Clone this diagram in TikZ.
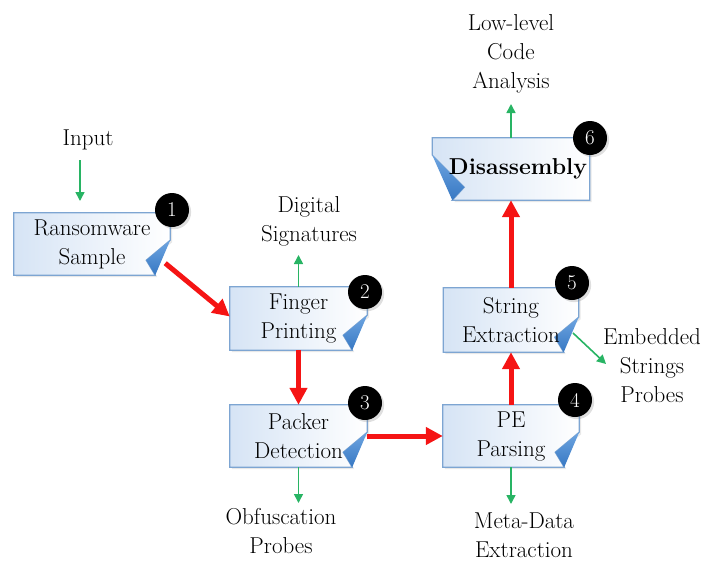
\documentclass[tikz,border=0pt]{standalone}
\usetikzlibrary{arrows.meta,shadows,backgrounds}

\definecolor{boxborder}{RGB}{125,165,210}
\definecolor{boxfillA}{RGB}{214,228,245}
\definecolor{foldblue}{RGB}{55,120,195}
\definecolor{foldlight}{RGB}{110,165,225}
\definecolor{flowred}{RGB}{245,20,20}
\definecolor{probegreen}{RGB}{40,180,100}

\tikzset{
  txt/.style={font=\rmfamily\fontsize{23}{29}\selectfont, align=center, inner sep=0pt},
  boxnode/.style={txt, rectangle},
  badge/.style={circle, fill=black, text=white, minimum size=34pt, inner sep=0pt,
    font=\rmfamily\fontsize{21}{21}\selectfont},
  flow/.style={draw=flowred, line width=5pt, -{Triangle[length=17pt,width=17pt]}},
  probe/.style={draw=probegreen, line width=1.6pt, -{Triangle[length=9pt,width=9pt]}},
  boxpaint/.style={left color=boxfillA, right color=white, draw=boxborder, line width=1.2pt,
    drop shadow={opacity=0.18, shadow xshift=2pt, shadow yshift=-2pt}},
  foldpaint/.style={top color=foldlight, bottom color=foldblue, draw=none}
}

% box with folded corner at bottom right
\newcommand\foldboxR[1]{%
  \path[boxpaint] (#1.north west) -- (#1.north east) -- ([yshift=35pt]#1.south east)
    -- ([xshift=-24pt,yshift=15pt]#1.south east) -- ([xshift=-15pt]#1.south east)
    -- (#1.south west) -- cycle;
  \path[foldpaint] ([yshift=35pt]#1.south east) -- ([xshift=-24pt,yshift=15pt]#1.south east)
    -- ([xshift=-15pt]#1.south east) -- cycle;}
% box with folded corner at bottom left
\newcommand\foldboxL[1]{%
  \path[boxpaint] (#1.north west) -- (#1.north east) -- (#1.south east)
    -- ([xshift=20pt]#1.south west) -- ([xshift=32pt,yshift=13pt]#1.south west)
    -- ([yshift=45pt]#1.south west) -- cycle;
  \path[foldpaint] ([yshift=45pt]#1.south west) -- ([xshift=32pt,yshift=13pt]#1.south west)
    -- ([xshift=20pt]#1.south west) -- cycle;}

\begin{document}
\begin{tikzpicture}[x=1pt, y=-1pt]
\useasboundingbox (0,0) rectangle (726,563);

% process boxes
\node[boxnode, minimum width=156pt, minimum height=62pt] (b1) at (92,244) {Ransomware\\Sample};
\node[boxnode, minimum width=137pt, minimum height=63pt] (b2) at (298.5,318.5) {Finger\\Printing};
\node[boxnode, minimum width=137pt, minimum height=62pt] (b3) at (298.5,436) {Packer\\Detection};
\node[boxnode, minimum width=136pt, minimum height=62pt] (b4) at (511,436) {PE\\Parsing};
\node[boxnode, minimum width=135pt, minimum height=64pt] (b5) at (511,320) {String\\Extraction};
\node[boxnode, minimum width=157pt, minimum height=62pt] (b6) at (511,169) {\hspace*{14pt}\textbf{Disassembly}};

\begin{scope}[on background layer]
  \foldboxR{b1}
  \foldboxR{b2}
  \foldboxR{b3}
  \foldboxR{b4}
  \foldboxR{b5}
  \foldboxL{b6}
\end{scope}

% outside labels
\node[txt] (in) at (88,140) {Input};
\node[txt] (sig) at (309,221) {Digital\\Signatures};
\node[txt] (obf) at (281,531) {Obfuscation\\Probes};
\node[txt] (meta) at (524,535) {Meta-Data\\Extraction};
\node[txt] (emb) at (652,366) {Embedded\\Strings\\Probes};
\node[txt] (low) at (511,54) {Low-level\\Code\\Analysis};

% free ends of the green arrows
\coordinate (inA) at (80,160);
\coordinate (inB) at (80,201);
\coordinate (sigtip) at (298.5,255);
\coordinate (obftip) at (298.5,503);
\coordinate (metatip) at (511,504);
\coordinate (embA) at (573,333);
\coordinate (embtip) at (606,364);
\coordinate (lowtip) at (511,104);

% green probe arrows
\draw[probe] (inA) -- (inB);
\draw[probe] (b2.north) -- (sigtip);
\draw[probe] (b3.south) -- (obftip);
\draw[probe] (b4.south) -- (metatip);
\draw[probe] (embA) -- (embtip);
\draw[probe] (b6.north) -- (lowtip);

% red flow arrows
\draw[flow] ([xshift=-5pt,yshift=12pt]b1.south east) -- ([yshift=2pt]b2.west);
\draw[flow] (b2.south) -- (b3.north);
\draw[flow] (b3.east) -- (b4.west);
\draw[flow] (b4.north) -- (b5.south);
\draw[flow] (b5.north) -- (b6.south);

% numbered badges
\node[badge, drop shadow={opacity=0.25}] (n1) at (172,210) {1};
\node[badge, drop shadow={opacity=0.25}] (n2) at (365,292) {2};
\node[badge, drop shadow={opacity=0.25}] (n3) at (365,403) {3};
\node[badge, drop shadow={opacity=0.25}] (n4) at (575,400) {4};
\node[badge, drop shadow={opacity=0.25}] (n5) at (572,283) {5};
\node[badge, drop shadow={opacity=0.25}] (n6) at (590,138) {6};
\end{tikzpicture}
\end{document}
